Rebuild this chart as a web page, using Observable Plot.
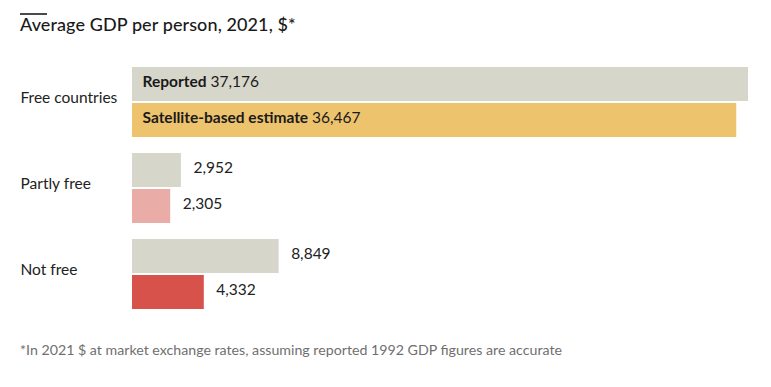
<!DOCTYPE html>
<html>
<head>
<meta charset="utf-8">
<script src="https://cdn.jsdelivr.net/npm/d3@7"></script>
<script src="https://cdn.jsdelivr.net/npm/@observablehq/plot@0.6"></script>
<style>
  html, body { margin: 0; padding: 0; background: #fff; }
  body { width: 771px; height: 387px; position: relative; font-family: Lato, "Noto Sans", sans-serif; color: #222; }
  #rule { position: absolute; left: 20px; top: 13px; width: 27px; height: 1.5px; background: #4a4a4a; }
  #title { position: absolute; left: 20px; top: 14px; font-size: 18px; font-weight: 500; line-height: 20px; color: #1a1a1a; letter-spacing: 0.1px; }
  #chart { position: absolute; left: 0; top: 50px; }
  #note { position: absolute; left: 20px; top: 342px; font-size: 14.2px; line-height: 16px; color: #6f6f6f; }
</style>
</head>
<body>
<div id="rule"></div>
<div id="title">Average GDP per person, 2021, $*</div>
<div id="chart"></div>
<div id="note">*In 2021 $ at market exchange rates, assuming reported 1992 GDP figures are accurate</div>
<script>
const groups = ["Free countries", "Partly free", "Not free"];
const series = ["Reported", "Satellite-based estimate"];
const reported = [37176, 2952, 8849];
const satellite = [36467, 2305, 4332];

const greyFill = "#d7d6ca";
const satFills = ["#edc36e", "#e9aca7", "#d7524a"];

const rows = [];
groups.forEach((g, i) => {
  rows.push({group: g, series: series[0], value: reported[i], fill: greyFill, gi: i});
  rows.push({group: g, series: series[1], value: satellite[i], fill: satFills[i], gi: i});
});
const fmt = d3.format(",");

const chart = Plot.plot({
  width: 771,
  height: 280,
  marginLeft: 132,
  marginRight: 23,
  marginTop: 16,
  marginBottom: 19.5,
  style: {fontFamily: "Lato, 'Noto Sans', sans-serif", fontSize: "15px", background: "#fff"},
  x: {domain: [0, d3.max(reported)], axis: null},
  fy: {domain: groups, paddingInner: 0.157, paddingOuter: 0, axis: null},
  y: {domain: series, paddingInner: 0.05, paddingOuter: 0, axis: null},
  color: {type: "identity"},
  marks: [
    Plot.barX(rows, {x: "value", y: "series", fy: "group", fill: "fill"}),
    Plot.text(rows.filter(d => d.gi === 0), {
      x: 0, y: "series", fy: "group", dx: 10, dy: -2, textAnchor: "start",
      text: d => d.series + " " + fmt(d.value), fill: "#1a1a1a", fontSize: 15.5
    }),
    Plot.text(rows.filter(d => d.gi !== 0), {
      x: "value", y: "series", fy: "group", dx: 12, dy: -2.5, textAnchor: "start",
      text: d => fmt(d.value), fill: "#222", fontSize: 15.5
    }),
    Plot.text(groups, {
      fy: d => d, frameAnchor: "left", dx: -112, dy: -4.5, textAnchor: "start",
      text: d => d, fill: "#222", fontSize: 15.5
    })
  ]
});

// bold series names inside the free-countries bars
chart.querySelectorAll("text").forEach(t => {
  const s = t.textContent;
  for (const name of series) {
    if (s.startsWith(name + " ")) {
      const rest = s.slice(name.length);
      t.textContent = "";
      const a = document.createElementNS("http://www.w3.org/2000/svg", "tspan");
      a.setAttribute("font-weight", "bold");
      a.textContent = name;
      const b = document.createElementNS("http://www.w3.org/2000/svg", "tspan");
      b.textContent = rest;
      t.appendChild(a); t.appendChild(b);
    }
  }
});

document.getElementById("chart").appendChild(chart);
</script>
</body>
</html>
